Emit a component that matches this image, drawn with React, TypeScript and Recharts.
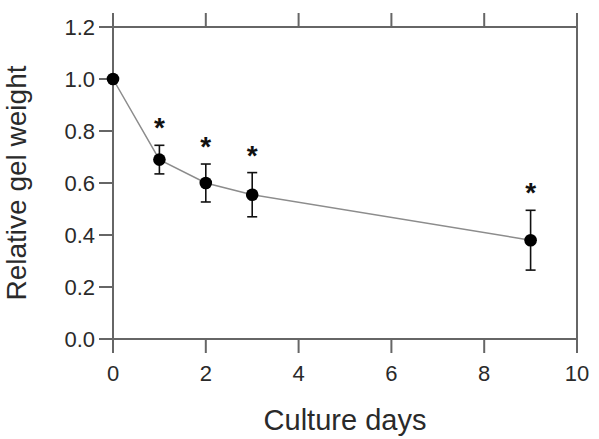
import React from 'react';
import {
  ComposedChart,
  Line,
  Scatter,
  XAxis,
  YAxis,
  ErrorBar,
} from 'recharts';

// Culture days and relative gel weight (mean ± SD)
const days = [0, 1, 2, 3, 9];
const meanWeight = [1.0, 0.69, 0.6, 0.555, 0.38];
const sdWeight = [0, 0.055, 0.073, 0.085, 0.115];
// significance markers (*) per time point
const significant = [false, true, true, true, true];

const xTicks = [0, 2, 4, 6, 8, 10];
const yTicks = [0, 0.2, 0.4, 0.6, 0.8, 1.0, 1.2];

const data = days.map((d, i) => ({
  day: d,
  weight: meanWeight[i],
  sd: sdWeight[i],
}));

const starData = days
  .map((d, i) => ({ day: d, upper: meanWeight[i] + sdWeight[i], sig: significant[i] }))
  .filter((p) => p.sig);

const FONT = '"Liberation Sans", Arial, Helvetica, sans-serif';
const AXIS = '#666666';
const TEXT = '#2a2a2a';

const Star = (props: any) => {
  const { cx, cy } = props;
  if (cx == null || cy == null) return null;
  return (
    <text
      x={cx}
      y={cy - 8}
      textAnchor="middle"
      fontFamily={FONT}
      fontSize={28}
      fontWeight="bold"
      fill="#111"
    >
      *
    </text>
  );
};

// frame axes keep their tick marks but draw no labels
const NoLabel = () => <g />;

export default function App() {
  return (
    <div style={{ position: 'absolute', left: 0, top: 0, background: '#fff' }}>
      <ComposedChart
        width={599}
        height={439}
        data={data}
        margin={{ top: 0, right: 0, bottom: 0, left: 0 }}
      >
        <XAxis
          xAxisId="bottom"
          dataKey="day"
          type="number"
          domain={[0, 10]}
          ticks={xTicks}
          height={100}
          tickSize={14}
          tickMargin={12}
          axisLine={{ stroke: AXIS, strokeWidth: 2 }}
          tickLine={{ stroke: AXIS, strokeWidth: 2 }}
          tick={{ fontFamily: FONT, fontSize: 22, fill: TEXT }}
          label={{
            value: 'Culture days',
            position: 'insideBottom',
            offset: 9,
            fontFamily: FONT,
            fontSize: 29,
            fill: TEXT,
          }}
        />
        <XAxis
          xAxisId="top"
          orientation="top"
          dataKey="day"
          type="number"
          domain={[0, 10]}
          ticks={xTicks}
          height={27}
          tickSize={14}
          axisLine={{ stroke: AXIS, strokeWidth: 2 }}
          tickLine={{ stroke: AXIS, strokeWidth: 2 }}
          tick={NoLabel}
        />
        <YAxis
          yAxisId="left"
          type="number"
          domain={[0, 1.2]}
          ticks={yTicks}
          width={113}
          tickSize={14}
          tickMargin={4}
          tickFormatter={(v: number) => v.toFixed(1)}
          axisLine={{ stroke: AXIS, strokeWidth: 2 }}
          tickLine={{ stroke: AXIS, strokeWidth: 2 }}
          tick={{ fontFamily: FONT, fontSize: 22, fill: TEXT }}
          label={{
            value: 'Relative gel weight',
            angle: -90,
            position: 'insideLeft',
            offset: 16,
            fontFamily: FONT,
            fontSize: 28,
            fill: TEXT,
            style: { textAnchor: 'middle' },
          }}
        />
        <YAxis
          yAxisId="right"
          orientation="right"
          type="number"
          domain={[0, 1.2]}
          ticks={yTicks}
          width={22}
          tickSize={14}
          axisLine={{ stroke: AXIS, strokeWidth: 2 }}
          tickLine={{ stroke: AXIS, strokeWidth: 2 }}
          tick={NoLabel}
        />
        <Line
          xAxisId="bottom"
          yAxisId="left"
          dataKey="weight"
          type="linear"
          stroke="#8c8c8c"
          strokeWidth={1.5}
          dot={{ r: 6.3, fill: '#000', stroke: '#000', strokeWidth: 0 }}
          activeDot={false}
          isAnimationActive={false}
        >
          <ErrorBar
            dataKey="sd"
            direction="y"
            width={5}
            stroke="#111"
            strokeWidth={1.6}
          />
        </Line>
        <Scatter
          xAxisId="bottom"
          yAxisId="left"
          data={starData}
          dataKey="upper"
          shape={<Star />}
          isAnimationActive={false}
        />
      </ComposedChart>
    </div>
  );
}
